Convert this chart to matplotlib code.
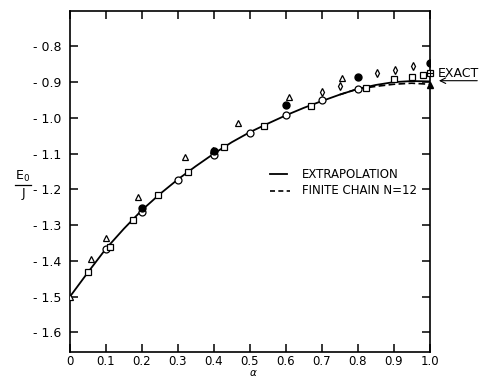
import matplotlib
matplotlib.use("Agg")
import matplotlib.pyplot as plt
from matplotlib.lines import Line2D

# extrapolated curve (solid)
curve_x = [0.0, 0.05, 0.1, 0.15, 0.2, 0.25, 0.3, 0.35, 0.4, 0.45, 0.5,
           0.55, 0.6, 0.65, 0.7, 0.75, 0.8, 0.85, 0.9, 0.95, 1.0]
curve_y = [-1.500, -1.432, -1.366, -1.310, -1.258, -1.213, -1.172, -1.135, -1.100, -1.068, -1.040,
           -1.016, -0.993, -0.972, -0.953, -0.935, -0.919, -0.908, -0.900, -0.897, -0.898]

# finite chain N=12 (dashed)
chain_x = [0.75, 0.8, 0.85, 0.9, 0.95, 1.0]
chain_y = [-0.935, -0.919, -0.912, -0.906, -0.903, -0.906]

circ_x = [0.1, 0.2, 0.3, 0.4, 0.5, 0.6, 0.7, 0.8]
circ_y = [-1.368, -1.264, -1.175, -1.103, -1.042, -0.993, -0.951, -0.918]

sq_x = [0.05, 0.11, 0.176, 0.246, 0.328, 0.429, 0.54, 0.67, 0.824, 0.902, 0.952, 0.981]
sq_y = [-1.432, -1.360, -1.285, -1.215, -1.151, -1.082, -1.022, -0.967, -0.916, -0.892, -0.887, -0.879]

tri_x = [0.0, 0.058, 0.10, 0.19, 0.321, 0.397, 0.466, 0.61, 0.757]
tri_y = [-1.501, -1.395, -1.335, -1.222, -1.108, -1.089, -1.014, -0.941, -0.888]

dia_x = [0.702, 0.752, 0.853, 0.903, 0.955]
dia_y = [-0.928, -0.910, -0.875, -0.866, -0.854]

dot_x = [0.2, 0.4, 0.6, 0.8, 1.0]
dot_y = [-1.252, -1.092, -0.965, -0.886, -0.846]

exact_x = [1.0]
exact_y = [-0.908]

yticks = [-0.8, -0.9, -1.0, -1.1, -1.2, -1.3, -1.4, -1.5, -1.6]
xticks = [0, 0.1, 0.2, 0.3, 0.4, 0.5, 0.6, 0.7, 0.8, 0.9, 1.0]

plt.rcParams['font.family'] = ['DejaVu Sans']
fig = plt.figure(figsize=(4.79, 3.79), dpi=100)
ax = fig.add_axes([0.146, 0.071, 0.751, 0.901])

ax.plot(curve_x, curve_y, '-', color='black', lw=1.3, zorder=2)
ax.plot(chain_x, chain_y, '--', color='black', lw=1.2, dashes=(4, 2), zorder=2)

mk = dict(ls='none', color='black', mfc='white', mew=0.9, zorder=3)
ax.plot(circ_x, circ_y, 'o', ms=5, **mk)
ax.plot(sq_x, sq_y, 's', ms=5, **mk)
ax.plot(tri_x, tri_y, '^', ms=5, **mk)
ax.plot(dia_x, dia_y, 'd', ms=4, **mk)
ax.plot(dot_x, dot_y, 'o', ms=5, color='black', ls='none', zorder=4)
ax.plot(exact_x, exact_y, '^', ms=5, color='black', ls='none', zorder=4, clip_on=False)
ax.plot([1.0], [-0.875], 's', ms=5, color='black', mfc='white', mew=0.9, clip_on=False, zorder=4)
ax.plot([1.0], [-0.875], '+', ms=5, color='black', mew=0.8, clip_on=False, zorder=5)

ax.set_xlim(0, 1.0)
ax.set_ylim(-1.655, -0.7)
ax.set_xticks(xticks)
ax.set_xticklabels(['0' if t == 0 else ('%.1f' % t) for t in xticks], fontsize=8.5)
ax.set_yticks(yticks)
ax.set_yticklabels(['- %.1f' % abs(t) for t in yticks], fontsize=9)
ax.tick_params(direction='in', top=True, right=True, length=6, width=1.1, pad=6)
ax.tick_params(axis='x', pad=2)
for s in ax.spines.values():
    s.set_linewidth(1.2)

# legend drawn by hand
ax.plot([0.556, 0.604], [-1.158, -1.158], '-', color='black', lw=1.3)
ax.plot([0.556, 0.611], [-1.204, -1.204], '--', color='black', lw=1.2, dashes=(3, 2))
ax.text(0.645, -1.158, 'EXTRAPOLATION', fontsize=8.5, va='center')
ax.text(0.645, -1.204, 'FINITE CHAIN N=12', fontsize=8.5, va='center')

ax.text(1.022, -0.875, 'EXACT', fontsize=9, va='center', clip_on=False)
ax.annotate('', xy=(1.018, -0.896), xytext=(1.14, -0.896),
            arrowprops=dict(arrowstyle='->', color='black', lw=0.8), annotation_clip=False)

# y label as a hand-set fraction E0 / J
fig.text(23 / 479, 1 - 176 / 379, r'E$_0$', fontsize=9, ha='center', va='center')
fig.text(23 / 479, 1 - 193 / 379, 'J', fontsize=9, ha='center', va='center')
fig.add_artist(Line2D([15 / 479, 31 / 479], [1 - 185 / 379, 1 - 185 / 379],
                      color='black', lw=0.9, transform=fig.transFigure))

fig.text(253 / 479, 0.5 / 379, r'$\alpha$', fontsize=7.5, ha='center', va='bottom')

fig.savefig('out.png', dpi=100)
